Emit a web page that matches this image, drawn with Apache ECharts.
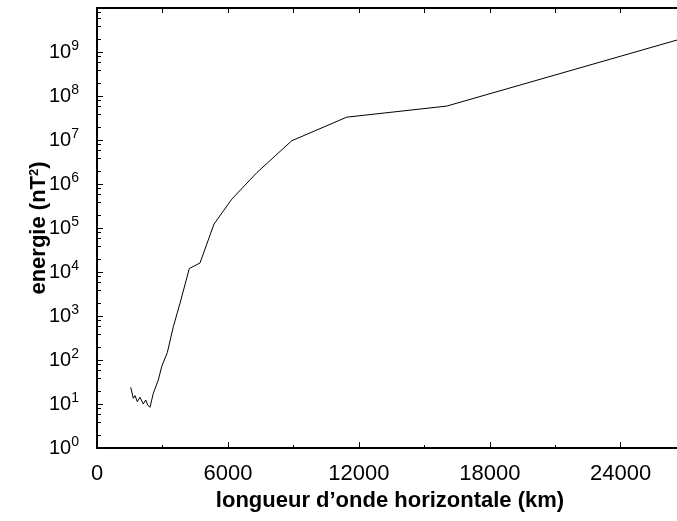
<!DOCTYPE html>
<html><head><meta charset="utf-8">
<script src="https://cdn.jsdelivr.net/npm/echarts/dist/echarts.min.js"></script>
<style>html,body{margin:0;padding:0;background:#fff}#c{width:677px;height:521px}</style>
</head><body><div id="c"></div>
<script>
// wavelength (km)
const wavelengthKm = [1545, 1664, 1742, 1847, 1971, 2122, 2232, 2324, 2429, 2580, 2809, 2965, 3222, 3497, 3804, 4230, 4720, 5362, 6173, 7319, 8923, 11444, 16027, 26580];
// energy (nT^2)
const energy = [24, 13.5, 15.5, 11.3, 14.2, 10, 12.3, 9.5, 8.4, 17.5, 35, 71, 147, 570, 1950, 1.2e4, 1.6e4, 1.23e5, 4.5e5, 1.8e6, 9.6e6, 3.3e7, 5.9e7, 1.87e9];
const xTickStep = 6000;
const xTopTickStep = 3000;
const xMax = 26580;
const yMinorMultipliers = [2, 4, 6, 8];
const yDecades = [0, 1, 2, 3, 4, 5, 6, 7, 8, 9];

const FONT = '"Liberation Sans", Arial, sans-serif';
const chart = echarts.init(document.getElementById('c'));
const seriesData = wavelengthKm.map((x, i) => [x, energy[i]]);
const minorData = [];
yDecades.forEach(d => yMinorMultipliers.forEach(m => minorData.push([0, m * Math.pow(10, d)])));

chart.setOption({
  animation: false,
  backgroundColor: '#fff',
  grid: { left: 97, right: 0, top: 8, bottom: 73 },
  xAxis: [{
    type: 'value', min: 0, max: xMax, interval: xTickStep,
    name: 'longueur d\u2019onde horizontale (km)', nameLocation: 'middle', nameGap: 41,
    nameTextStyle: { fontFamily: FONT, fontWeight: 'bold', fontSize: 22, color: '#000', padding: [0, 0, 0, 6] },
    axisLine: { show: true, lineStyle: { color: '#000', width: 2 } },
    axisTick: { show: true, inside: true, length: 6, lineStyle: { color: '#000' } },
    minorTick: { show: true, splitNumber: 2, length: 3, lineStyle: { color: '#000' } },
    axisLabel: { fontFamily: FONT, fontSize: 22, color: '#000', margin: 15, showMaxLabel: false,
      formatter: v => (v % xTickStep === 0 ? String(v) : '') },
    splitLine: { show: false }
  }, {
    type: 'value', position: 'top', min: 0, max: xMax, interval: xTopTickStep,
    axisLine: { show: true, lineStyle: { color: '#000', width: 2 } },
    axisTick: { show: true, inside: true, length: 5, lineStyle: { color: '#000', width: 1 } },
    axisLabel: { show: false },
    splitLine: { show: false }
  }],
  yAxis: {
    type: 'log', logBase: 10, min: 1, max: 1e10, interval: 1,
    name: 'energie (nT{s|2})', nameLocation: 'middle', nameGap: 47, nameRotate: 90,
    nameMoveOverlap: false,
    nameTextStyle: { fontFamily: FONT, fontWeight: 'bold', fontSize: 22, color: '#000',
      rich: { s: { fontFamily: FONT, fontWeight: 'bold', fontSize: 13, verticalAlign: 'top', color: '#000' } } },
    axisLine: { show: true, lineStyle: { color: '#000', width: 2 } },
    axisTick: { show: true, inside: true, length: 6, lineStyle: { color: '#000' } },
    axisLabel: { showMaxLabel: false, margin: 18, fontFamily: FONT, fontSize: 20, color: '#000', lineHeight: 26,
      formatter: v => '10{e|' + Math.round(Math.log10(v)) + '}',
      rich: { e: { fontFamily: FONT, fontSize: 14, color: '#000', verticalAlign: 'top', lineHeight: 26 } } },
    splitLine: { show: false }
  },
  series: [{
    type: 'line', data: seriesData, showSymbol: false, symbol: 'none',
    lineStyle: { color: '#000', width: 1 }
  }, {
    type: 'custom', silent: true, clip: false, data: minorData,
    renderItem: (params, api) => {
      const p = api.coord([api.value(0), api.value(1)]);
      const y = Math.round(p[1]) + 0.5;
      return { type: 'line', shape: { x1: p[0], y1: y, x2: p[0] + 4, y2: y }, style: { stroke: '#000', lineWidth: 1 } };
    }
  }]
});
</script></body></html>
